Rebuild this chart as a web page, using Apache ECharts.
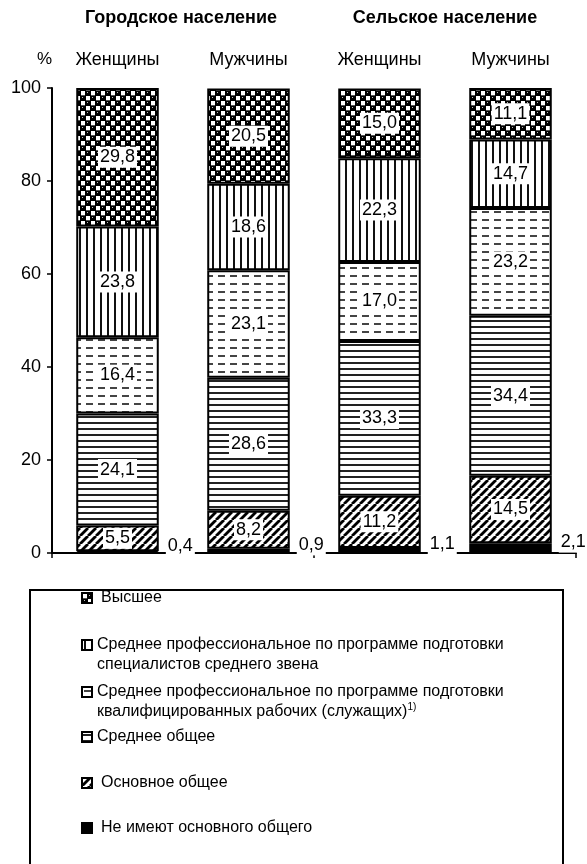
<!DOCTYPE html>
<html>
<head>
<meta charset="utf-8">
<script src="https://cdn.jsdelivr.net/npm/echarts@6/dist/echarts.min.js"></script>
<style>
html,body{margin:0;padding:0;background:#fff;}
#c{width:587px;height:864px;}
</style>
</head>
<body>
<div id="c"></div>
<script>
// ---- data ----
const categories = ['Городское население, женщины', 'Городское население, мужчины', 'Сельское население, женщины', 'Сельское население, мужчины'];
const sexLabels = ['Женщины', 'Мужчины', 'Женщины', 'Мужчины'];
const groupTitles = ['Городское население', 'Сельское население'];
const yTicks = [0, 20, 40, 60, 80, 100];

const seriesNames = [
  'Не имеют основного общего',
  'Основное общее',
  'Среднее общее',
  'Среднее профессиональное по программе подготовки квалифицированных рабочих (служащих)',
  'Среднее профессиональное по программе подготовки специалистов среднего звена',
  'Высшее'
];
const noBasic = [0.4, 0.9, 1.1, 2.1];
const basicGeneral = [5.5, 8.2, 11.2, 14.5];
const secondaryGeneral = [24.1, 28.6, 33.3, 34.4];
const vocationalWorkers = [16.4, 23.1, 17.0, 23.2];
const vocationalSpecialists = [23.8, 18.6, 22.3, 14.7];
const higher = [29.8, 20.5, 15.0, 11.1];
const seriesValues = [noBasic, basicGeneral, secondaryGeneral, vocationalWorkers, vocationalSpecialists, higher];

// ---- patterns ----
function tile(w, h, draw) {
  const c = document.createElement('canvas');
  c.width = w; c.height = h;
  const ctx = c.getContext('2d');
  draw(ctx, w, h);
  return { image: c, repeat: 'repeat' };
}
const patSolid = '#000';
const patDiag = tile(8, 8, (ctx) => {
  ctx.fillStyle = '#fff'; ctx.fillRect(0, 0, 8, 8);
  ctx.strokeStyle = '#000'; ctx.lineWidth = 2.8;
  for (const o of [-8, 0, 8]) {
    ctx.beginPath(); ctx.moveTo(o, 8); ctx.lineTo(o + 8, 0); ctx.stroke();
  }
});
const patHoriz = tile(4, 6, (ctx) => {
  ctx.fillStyle = '#fff'; ctx.fillRect(0, 0, 4, 6);
  ctx.fillStyle = '#222'; ctx.fillRect(0, 2, 4, 2);
});
const patDash = tile(12, 8, (ctx) => {
  ctx.fillStyle = '#fff'; ctx.fillRect(0, 0, 12, 8);
  ctx.fillStyle = '#444'; ctx.fillRect(2, 3, 7, 2);
});
const patVert = tile(7, 4, (ctx) => {
  ctx.fillStyle = '#fff'; ctx.fillRect(0, 0, 7, 4);
  ctx.fillStyle = '#111'; ctx.fillRect(2, 0, 2, 4);
});
const patBalls = tile(10, 10, (ctx) => {
  ctx.fillStyle = '#000'; ctx.fillRect(0, 0, 10, 10);
  ctx.fillStyle = '#fff';
  ctx.fillRect(1, 1, 4, 4); ctx.fillRect(6, 6, 4, 4);
  ctx.fillStyle = '#000';
  for (const [cx, cy] of [[8, 3], [3, 8], [-2, 3], [3, -2], [8, 13], [13, 8]]) {
    ctx.beginPath(); ctx.arc(cx, cy, 2.6, 0, Math.PI * 2); ctx.fill();
  }
  ctx.fillStyle = '#bbb';
  ctx.fillRect(7, 2, 1, 1); ctx.fillRect(2, 7, 1, 1);
  ctx.fillStyle = '#555';
  ctx.fillRect(6, 0, 4, 1); ctx.fillRect(1, 5, 4, 1);
});
const patterns = [patSolid, patDiag, patHoriz, patDash, patVert, patBalls];

const FONT = '"Liberation Sans", Arial, sans-serif';
const fmt = v => v.toFixed(1).replace('.', ',');

const series = seriesNames.map((name, i) => ({
  name,
  type: 'bar',
  stack: 'total',
  barWidth: '63%',
  data: seriesValues[i],
  itemStyle: { color: patterns[i], borderColor: '#000', borderWidth: 2 },
  emphasis: { disabled: true },
  label: {
    show: true,
    position: i === 0 ? 'right' : 'inside',
    distance: 7,
    offset: i === 0 ? [0, -6] : [0, 0],
    formatter: p => fmt(p.value),
    color: '#000',
    fontSize: 18,
    fontFamily: FONT,
    backgroundColor: '#fff',
    padding: [2, 2, 1, 2]
  }
}));

// legend layout: [series index, top, two lines, extra left pad]
const LH = 20;
const legendRows = [
  [5, 588, false, 4],
  [4, 615, true, 0],
  [3, 662, true, 0],
  [2, 727, false, 0],
  [1, 773, false, 4],
  [0, 818, false, 4]
];
const legendLabels = {
  'Высшее': 'Высшее',
  'Среднее профессиональное по программе подготовки специалистов среднего звена': 'Среднее профессиональное по программе подготовки\nспециалистов среднего звена',
  'Среднее профессиональное по программе подготовки квалифицированных рабочих (служащих)': 'Среднее профессиональное по программе подготовки\nквалифицированных рабочих (служащих){sup|1)}',
  'Среднее общее': 'Среднее общее',
  'Основное общее': 'Основное общее',
  'Не имеют основного общего': 'Не имеют основного общего'
};
const legends = legendRows.map(([si, top, two, padL]) => ({
  data: [seriesNames[si]],
  left: 81,
  top: top,
  padding: 0,
  orient: 'vertical',
  icon: 'rect',
  itemWidth: 10,
  itemHeight: 10,
  selectedMode: false,
  formatter: n => legendLabels[n],
  textStyle: {
    color: '#000',
    fontSize: 16,
    fontFamily: FONT,
    lineHeight: LH,
    padding: [two ? LH : 0, 0, 0, padL],
    rich: { sup: { fontSize: 10, fontFamily: FONT, color: '#000', verticalAlign: 'top', lineHeight: LH, padding: [0, 0, 8, 0] } }
  }
}));

const chart = echarts.init(document.getElementById('c'), null, { renderer: 'canvas' });
chart.setOption({
  backgroundColor: '#fff',
  animation: false,
  grid: { left: 52, right: 11, top: 88, bottom: 311, outerBoundsMode: 'none' },
  xAxis: [
    {
      type: 'category', data: categories, position: 'bottom',
      axisLine: { show: true, lineStyle: { color: '#000', width: 2 } },
      axisTick: { show: true, length: 5, lineStyle: { color: '#000', width: 1.5 } },
      axisLabel: { show: false }
    },
    {
      type: 'category', data: categories, position: 'top',
      axisLine: { show: false }, axisTick: { show: false },
      axisLabel: { show: true, margin: 19, color: '#000', fontSize: 18, fontFamily: FONT,
        formatter: (v, idx) => sexLabels[idx] }
    }
  ],
  yAxis: {
    type: 'value', min: yTicks[0], max: yTicks[yTicks.length - 1], interval: 20,
    name: '%', nameLocation: 'end', nameGap: 20,
    nameTextStyle: { color: '#000', fontSize: 17, fontFamily: FONT, align: 'right', padding: [0, 0, 0, 0] },
    axisLine: { show: true, lineStyle: { color: '#000', width: 2 } },
    axisTick: { show: true, length: 5, lineStyle: { color: '#000', width: 1.5 } },
    axisLabel: { color: '#000', fontSize: 18, fontFamily: FONT, margin: 11 },
    splitLine: { show: false }
  },
  legend: legends,
  graphic: [
    { type: 'text', x: 181, y: 18, style: { text: groupTitles[0], font: 'bold 18px ' + FONT, fill: '#000', align: 'center', verticalAlign: 'middle' } },
    { type: 'text', x: 445, y: 18, style: { text: groupTitles[1], font: 'bold 18px ' + FONT, fill: '#000', align: 'center', verticalAlign: 'middle' } },
    { type: 'rect', shape: { x: 30, y: 590, width: 533, height: 290 }, style: { fill: 'none', stroke: '#000', lineWidth: 2 }, z: -1 }
  ],
  series
});
</script>
</body>
</html>
